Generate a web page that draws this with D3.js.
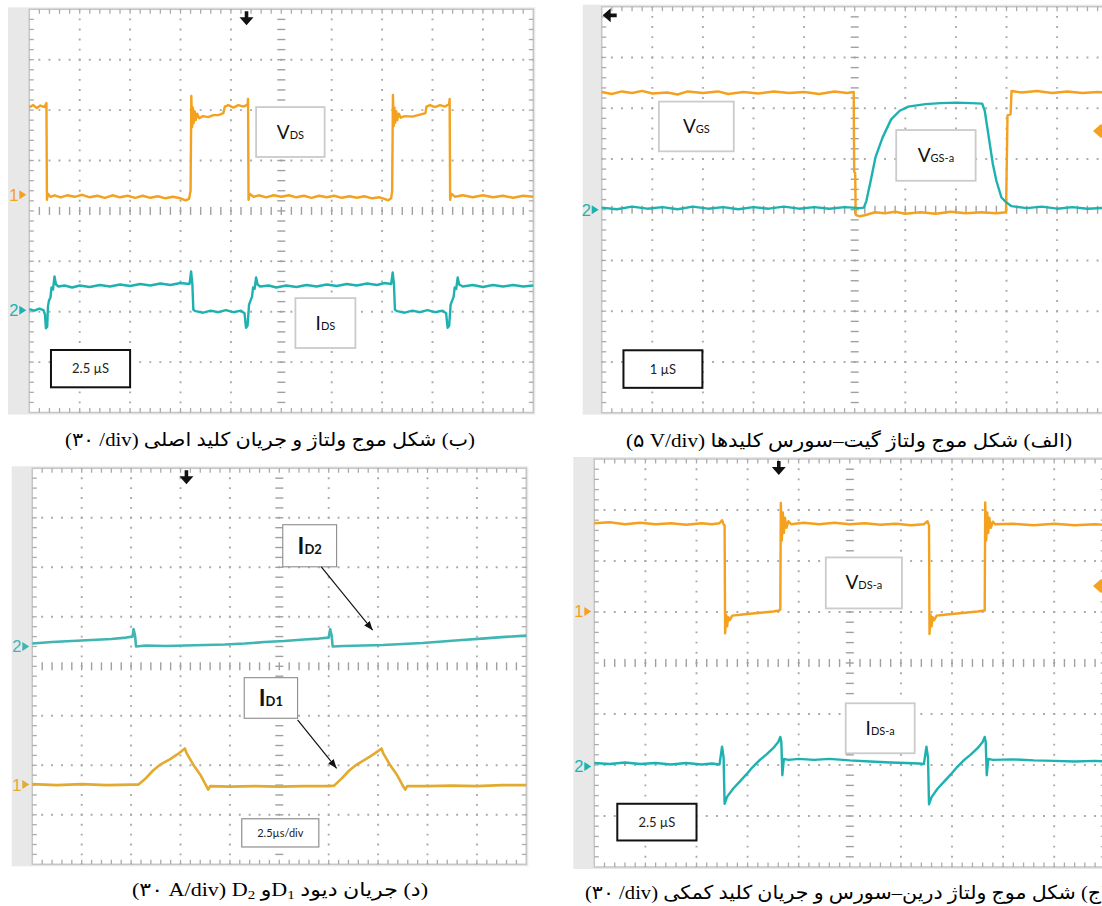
<!DOCTYPE html>
<html>
<head>
<meta charset="utf-8">
<script src="https://cdn.jsdelivr.net/npm/d3@7"></script>
<style>
    body { margin: 0; background: #fff; }
    #holder { position: relative; width: 1102px; height: 906px; overflow: hidden; background: #fff; }
    #holder svg { position: absolute; left: 0; top: 0; }
    .caption {
        position: absolute;
        white-space: nowrap;
        font-family: "Liberation Serif", "DejaVu Sans", serif;
        font-size: 19px;
        line-height: 26px;
        color: #000;
        transform-origin: 0 50%;
    }
    .caption sub { font-size: 0.68em; vertical-align: -0.25em; }
</style>
</head>
<body>
<div id="holder"></div>
<script>
// traces: [time in divisions, level in divisions above screen centre]

// (ب) main switch
const vdsMain = [[0,2.06],[0.08,2.10],[0.15,2.04],[0.22,2.09],[0.3,2.06],[0.34,2.14],
    [0.35,0.22],[0.37,0.34],[0.42,0.28],[0.5,0.31],[0.62,0.27],[0.75,0.31],[0.9,0.28],[1.05,0.32],
    [1.2,0.27],[1.35,0.30],[1.5,0.26],[1.65,0.31],[1.8,0.27],[1.95,0.30],[2.1,0.26],[2.25,0.30],
    [2.4,0.26],[2.55,0.29],[2.7,0.25],[2.85,0.28],[3.0,0.25],[3.1,0.21],[3.17,0.24],[3.2,0.40],
    [3.215,2.28],[3.23,1.66],[3.245,2.05],[3.26,1.74],[3.28,1.98],[3.30,1.80],[3.33,1.93],[3.37,1.84],
    [3.45,1.88],[3.55,1.86],[3.65,1.90],[3.75,1.90],[3.85,1.94],[3.88,2.07],[3.95,2.10],[4.05,2.05],
    [4.15,2.10],[4.25,2.07],[4.33,2.11],[4.34,2.22],[4.35,0.22],[4.37,0.34],[4.45,0.28],[4.55,0.31],
    [4.7,0.27],[4.85,0.31],[5.0,0.28],[5.15,0.31],[5.3,0.27],[5.45,0.30],[5.6,0.26],[5.75,0.30],
    [5.9,0.27],[6.05,0.30],[6.2,0.26],[6.35,0.29],[6.5,0.26],[6.65,0.29],[6.8,0.25],[6.95,0.27],
    [7.05,0.24],[7.12,0.21],[7.18,0.25],[7.2,0.40],[7.215,2.30],[7.23,1.68],[7.245,2.05],[7.26,1.75],
    [7.28,1.98],[7.30,1.80],[7.33,1.93],[7.37,1.85],[7.45,1.88],[7.6,1.87],[7.75,1.91],[7.86,1.94],
    [7.88,2.07],[7.95,2.10],[8.05,2.06],[8.15,2.10],[8.25,2.07],[8.33,2.12],[8.34,2.22],[8.35,0.22],
    [8.37,0.34],[8.45,0.28],[8.6,0.31],[8.8,0.27],[9.0,0.31],[9.2,0.27],[9.4,0.30],[9.6,0.26],
    [9.8,0.30],[10,0.28]];

const idsMain = [[0,-1.95],[0.1,-1.98],[0.2,-1.94],[0.28,-1.97],[0.31,-2.05],[0.33,-2.33],[0.355,-2.30],
    [0.37,-1.90],[0.39,-1.78],[0.42,-1.72],[0.44,-1.52],[0.47,-1.56],[0.5,-1.30],[0.53,-1.46],[0.58,-1.50],
    [0.7,-1.48],[0.85,-1.52],[1.0,-1.48],[1.2,-1.51],[1.4,-1.47],[1.6,-1.50],[1.8,-1.46],[2.0,-1.49],
    [2.2,-1.45],[2.4,-1.48],[2.6,-1.44],[2.8,-1.47],[3.0,-1.43],[3.18,-1.45],[3.21,-1.20],[3.235,-1.45],
    [3.255,-1.96],[3.3,-1.99],[3.45,-2.02],[3.6,-1.98],[3.75,-2.01],[3.9,-1.97],[4.05,-2.01],[4.2,-1.98],
    [4.27,-2.03],[4.3,-2.32],[4.33,-2.28],[4.36,-1.86],[4.39,-1.78],[4.42,-1.70],[4.44,-1.52],[4.47,-1.55],
    [4.5,-1.32],[4.53,-1.46],[4.58,-1.50],[4.75,-1.48],[4.9,-1.52],[5.1,-1.48],[5.3,-1.51],[5.5,-1.47],
    [5.7,-1.50],[5.9,-1.46],[6.1,-1.49],[6.3,-1.45],[6.5,-1.48],[6.7,-1.44],[6.9,-1.47],[7.05,-1.43],
    [7.18,-1.45],[7.21,-1.22],[7.235,-1.45],[7.255,-1.96],[7.3,-1.99],[7.45,-2.02],[7.6,-1.98],[7.75,-2.01],
    [7.9,-1.97],[8.05,-2.01],[8.2,-1.98],[8.27,-2.03],[8.3,-2.32],[8.33,-2.28],[8.36,-1.86],[8.39,-1.78],
    [8.42,-1.70],[8.44,-1.52],[8.47,-1.55],[8.5,-1.32],[8.53,-1.46],[8.6,-1.50],[8.8,-1.47],[9.0,-1.51],
    [9.2,-1.47],[9.4,-1.50],[9.6,-1.47],[9.8,-1.50],[10,-1.48]];

// (الف) gate-source
const vgsMain = [[0,2.32],[0.2,2.28],[0.4,2.33],[0.6,2.30],[0.8,2.34],[1.0,2.29],[1.3,2.31],[1.5,2.27],
    [1.7,2.33],[2.0,2.30],[2.3,2.33],[2.5,2.28],[2.8,2.32],[3.1,2.29],[3.4,2.33],[3.7,2.30],[4.0,2.32],
    [4.3,2.28],[4.6,2.33],[4.85,2.30],[4.98,2.32],[4.99,0.75],[5.01,0.72],[5.02,-0.10],[5.1,-0.13],
    [5.2,-0.11],[5.3,-0.08],[5.4,-0.05],[5.6,-0.07],[5.8,-0.04],[6.0,-0.08],[6.3,-0.05],[6.6,-0.08],
    [6.9,-0.04],[7.2,-0.07],[7.5,-0.05],[7.8,-0.07],[7.99,-0.05],[8.0,0.55],[8.02,1.86],[8.08,1.88],
    [8.1,2.34],[8.3,2.31],[8.6,2.34],[8.9,2.30],[9.2,2.33],[9.5,2.30],[9.8,2.32],[10,2.31]];

const vgsAux = [[0,0.04],[0.3,0.01],[0.6,0.06],[0.9,0.02],[1.2,0.05],[1.5,0.01],[1.8,0.06],[2.1,0.02],
    [2.4,0.05],[2.7,0.01],[3.0,0.05],[3.3,0.02],[3.6,0.06],[3.9,0.02],[4.2,0.05],[4.5,0.02],[4.8,0.05],
    [5.1,0.03],[5.18,0.04],[5.23,0.17],[5.31,0.54],[5.41,1.03],[5.55,1.42],[5.72,1.78],[5.89,1.95],
    [6.06,2.03],[6.4,2.08],[6.7,2.10],[7.01,2.11],[7.3,2.10],[7.52,2.09],[7.57,1.95],[7.66,1.36],
    [7.73,0.90],[7.80,0.57],[7.90,0.24],[8.0,0.14],[8.1,0.07],[8.4,0.03],[8.7,0.06],[9.0,0.02],
    [9.3,0.05],[9.6,0.02],[10,0.04]];

// (د) diodes
const iD2 = [[0,0.46],[0.4,0.49],[0.8,0.51],[1.2,0.53],[1.6,0.55],[1.9,0.58],[2.03,0.60],[2.05,0.75],
    [2.08,0.62],[2.1,0.40],[2.3,0.42],[2.7,0.41],[3.1,0.42],[3.5,0.43],[3.9,0.44],[4.3,0.46],[4.7,0.49],
    [5.1,0.51],[5.5,0.54],[5.8,0.56],[6.0,0.58],[6.03,0.75],[6.06,0.62],[6.08,0.40],[6.3,0.41],[6.7,0.42],
    [7.1,0.43],[7.5,0.45],[7.9,0.47],[8.3,0.50],[8.7,0.53],[9.1,0.56],[9.5,0.59],[10,0.62]];

const iD1 = [[0,-2.38],[0.5,-2.40],[1.0,-2.38],[1.5,-2.40],[2.0,-2.39],[2.15,-2.39],[2.3,-2.26],
    [2.45,-2.10],[2.6,-1.98],[2.8,-1.87],[2.95,-1.77],[3.09,-1.66],[3.12,-1.75],[3.26,-1.99],[3.40,-2.19],
    [3.53,-2.43],[3.56,-2.49],[3.6,-2.42],[4.0,-2.43],[4.5,-2.42],[5.0,-2.43],[5.5,-2.42],[6.0,-2.42],
    [6.11,-2.41],[6.26,-2.27],[6.41,-2.11],[6.56,-1.99],[6.76,-1.87],[6.92,-1.77],[7.07,-1.66],[7.10,-1.75],
    [7.24,-1.99],[7.38,-2.19],[7.51,-2.43],[7.55,-2.49],[7.59,-2.42],[8.0,-2.42],[8.5,-2.41],[9.0,-2.42],
    [9.5,-2.40],[10,-2.40]];

// (ج) auxiliary switch
const vdsAux = [[0,2.74],[0.3,2.76],[0.6,2.72],[0.9,2.75],[1.2,2.72],[1.5,2.74],[1.8,2.71],[2.1,2.74],
    [2.3,2.72],[2.45,2.74],[2.5,2.80],[2.53,2.72],[2.55,2.70],[2.56,0.58],[2.58,0.95],[2.6,0.72],[2.62,0.90],
    [2.65,0.84],[2.7,0.93],[2.9,0.95],[3.1,0.97],[3.3,0.99],[3.5,1.01],[3.62,1.03],[3.64,1.05],[3.65,3.14],
    [3.67,2.40],[3.69,2.95],[3.71,2.55],[3.73,2.85],[3.76,2.65],[3.8,2.78],[3.85,2.72],[4.1,2.75],[4.4,2.72],
    [4.7,2.75],[5.0,2.72],[5.3,2.74],[5.6,2.71],[5.9,2.73],[6.2,2.70],[6.45,2.72],[6.52,2.78],[6.55,2.70],
    [6.56,0.57],[6.58,0.95],[6.6,0.72],[6.62,0.90],[6.65,0.84],[6.7,0.93],[6.9,0.95],[7.1,0.97],[7.3,0.99],
    [7.5,1.01],[7.64,1.03],[7.65,3.15],[7.67,2.40],[7.69,2.95],[7.71,2.55],[7.73,2.85],[7.76,2.65],[7.8,2.77],
    [7.85,2.72],[8.2,2.73],[8.6,2.70],[9.0,2.73],[9.4,2.70],[9.8,2.72],[10,2.71]];

const idsAux = [[0,-1.96],[0.3,-1.98],[0.6,-1.95],[0.9,-1.98],[1.2,-1.96],[1.5,-1.99],[1.8,-1.96],
    [2.1,-1.99],[2.3,-1.97],[2.45,-1.99],[2.5,-1.64],[2.53,-1.85],[2.55,-2.76],[2.6,-2.62],[2.72,-2.46],
    [2.85,-2.32],[2.98,-2.18],[3.1,-2.04],[3.24,-1.90],[3.36,-1.80],[3.5,-1.67],[3.6,-1.55],[3.64,-1.45],
    [3.66,-1.55],[3.68,-2.20],[3.71,-1.88],[3.8,-1.90],[4.0,-1.88],[4.3,-1.90],[4.6,-1.88],[5.0,-1.91],
    [5.4,-1.93],[5.8,-1.95],[6.1,-1.96],[6.35,-1.97],[6.45,-1.98],[6.5,-1.64],[6.53,-1.85],[6.55,-2.77],
    [6.6,-2.63],[6.72,-2.46],[6.85,-2.32],[6.98,-2.18],[7.1,-2.04],[7.24,-1.90],[7.36,-1.80],[7.5,-1.67],
    [7.6,-1.55],[7.64,-1.45],[7.66,-1.55],[7.68,-2.20],[7.71,-1.88],[7.8,-1.90],[8.2,-1.89],[8.6,-1.91],
    [9.0,-1.92],[9.4,-1.93],[9.8,-1.92],[10,-1.93]];

// captions (rendered right-to-left)
const captionB = 'شکل موج ولتاژ و جریان کلید اصلی';
const captionA = 'شکل موج ولتاژ گیت–سورس کلیدها';
const captionD = 'جریان دیود';
const captionC = 'شکل موج ولتاژ درین–سورس و جریان کلید کمکی';

const ORANGE = "#f3a11e";
const CYAN = "#1db2b0";
const ORANGE_D = "#e3aa30";
const CYAN_D = "#3fb5b4";

class ScopeScreen {
    constructor() {
        this.g;
        this.cfg;
        this.x;
        this.yr;
        this.yv;

        this.init = this.init.bind(this);
        this.drawFrame = this.drawFrame.bind(this);
        this.drawTraces = this.drawTraces.bind(this);
        this.drawNotes = this.drawNotes.bind(this);
    }

    init(svg, cfg){
        this.cfg = cfg;
        this.g = svg.append("g");
        this.x = d3.scaleLinear().domain([0, 10]).range([cfg.x0, cfg.x0 + 10 * cfg.dx]);
        this.yr = d3.scaleLinear().domain([0, 8]).range([cfg.y0, cfg.y0 + 8 * cfg.dy]);
        this.yv = d3.scaleLinear().domain([4, -4]).range([cfg.y0, cfg.y0 + 8 * cfg.dy]);
    }

    drawFrame(){
        let g = this.g, x = this.x, yr = this.yr, cfg = this.cfg;
        let left = x(0), right = x(10), top = yr(0), bottom = yr(8);
        let minorX = cfg.dx / 5, minorY = cfg.dy / 5;

        g.append("rect")
            .attr("x", left - cfg.strip).attr("y", top - 2)
            .attr("width", right - left + cfg.strip + 2).attr("height", bottom - top + 4)
            .attr("fill", "#e8e8e8");
        g.append("rect")
            .attr("x", left).attr("y", top)
            .attr("width", right - left).attr("height", bottom - top)
            .attr("fill", "#fff").attr("stroke", "#c6c6c6").attr("stroke-width", 1.5);

        //dotted division lines
        g.selectAll(".vdot").data(d3.range(1, 10).filter(d => d !== 5))
            .enter().append("line").attr("class", "vdot")
            .attr("x1", d => x(d)).attr("x2", d => x(d))
            .attr("y1", top).attr("y2", bottom)
            .attr("stroke", "#a9a9a9").attr("stroke-width", 1.9)
            .attr("stroke-dasharray", "1.9," + (minorY - 1.9))
            .attr("stroke-dashoffset", 0.95);
        g.selectAll(".hdot").data(d3.range(1, 8).filter(d => d !== 4))
            .enter().append("line").attr("class", "hdot")
            .attr("y1", d => yr(d)).attr("y2", d => yr(d))
            .attr("x1", left).attr("x2", right)
            .attr("stroke", "#a9a9a9").attr("stroke-width", 1.9)
            .attr("stroke-dasharray", "1.9," + (minorX - 1.9))
            .attr("stroke-dashoffset", 0.95);

        //centre cross ticks
        g.selectAll(".ctx").data(d3.range(1, 50))
            .enter().append("line").attr("class", "ctx")
            .attr("x1", d => x(d / 5)).attr("x2", d => x(d / 5))
            .attr("y1", yr(4) - 4).attr("y2", yr(4) + 4)
            .attr("stroke", "#a0a0a0").attr("stroke-width", 1.4);
        g.selectAll(".cty").data(d3.range(1, 40))
            .enter().append("line").attr("class", "cty")
            .attr("y1", d => yr(d / 5)).attr("y2", d => yr(d / 5))
            .attr("x1", x(5) - 4).attr("x2", x(5) + 4)
            .attr("stroke", "#a0a0a0").attr("stroke-width", 1.4);

        //border ticks
        let bx = d3.range(1, 50), by = d3.range(1, 40);
        [[top, top + 4.5], [bottom - 4.5, bottom]].forEach(function(p){
            g.selectAll(null).data(bx).enter().append("line")
                .attr("x1", d => x(d / 5)).attr("x2", d => x(d / 5))
                .attr("y1", p[0]).attr("y2", p[1])
                .attr("stroke", "#ababab").attr("stroke-width", 1.3);
        });
        [[left, left + 4.5], [right - 4.5, right]].forEach(function(p){
            g.selectAll(null).data(by).enter().append("line")
                .attr("y1", d => yr(d / 5)).attr("y2", d => yr(d / 5))
                .attr("x1", p[0]).attr("x2", p[1])
                .attr("stroke", "#ababab").attr("stroke-width", 1.3);
        });
    }

    drawTraces(){
        let x = this.x, yv = this.yv, cfg = this.cfg;
        let line = d3.line()
            .x(d => x(d[0]))
            .y(d => yv(d[1]));

        this.g.selectAll(".trace").data(cfg.traces)
            .enter().append("path").attr("class", "trace")
            .attr("d", d => line(d.data))
            .attr("fill", "none")
            .attr("stroke", d => d.color)
            .attr("stroke-width", cfg.lw)
            .attr("stroke-linejoin", "round");

        //channel markers in the grey strip
        let left = x(0);
        this.g.selectAll(".chan").data(cfg.chans)
            .enter().append("g").attr("class", "chan")
            .each(function(c){
                let cy = yv(c.v);
                d3.select(this).append("text")
                    .attr("x", left - 20).attr("y", cy).attr("dy", "0.36em")
                    .attr("font-family", "Liberation Sans, Arial, sans-serif")
                    .attr("font-size", 16.5)
                    .attr("fill", c.color)
                    .text(c.ch);
                d3.select(this).append("path")
                    .attr("d", "M" + (left - 10) + "," + (cy - 4.5) + "L" + (left - 3) + "," + cy + "L" + (left - 10) + "," + (cy + 4.5) + "Z")
                    .attr("fill", c.color);
            });
    }

    drawNotes(){
        let g = this.g, x = this.x, yr = this.yr, yv = this.yv, cfg = this.cfg;
        let top = yr(0);

        //trigger position marker
        if (cfg.trig.dir === "down"){
            let tx = x(cfg.trig.t);
            g.append("path")
                .attr("d", "M" + (tx - 1.8) + "," + (top + 2) + "h3.6v6h5.2l-7,8l-7,-8h5.2z")
                .attr("fill", "#111");
        } else {
            let ty = yr(cfg.trig.r);
            let lx = x(0) + 1;
            g.append("path")
                .attr("d", "M" + lx + "," + ty + "l8,-7v5.2h6v3.6h-6v5.2z")
                .attr("fill", "#111");
        }

        //trigger level marker on the right edge
        if (cfg.level !== undefined){
            let ly = yv(cfg.level);
            g.append("path")
                .attr("d", "M1093," + ly + "l8,-7l8,7l-8,7z")
                .attr("fill", ORANGE);
        }

        //name boxes
        g.selectAll(".nbox").data(cfg.boxes)
            .enter().append("g").attr("class", "nbox")
            .each(function(b){
                let x0 = x(b.t0), x1 = x(b.t1), y0 = yr(b.r0), y1 = yr(b.r1);
                d3.select(this).append("rect")
                    .attr("x", x0).attr("y", y0)
                    .attr("width", x1 - x0).attr("height", y1 - y0)
                    .attr("fill", "#fff")
                    .attr("stroke", b.bold ? "#8c8c8c" : "#cbcbcb")
                    .attr("stroke-width", b.bold ? 1.1 : 1.8);
                let t = d3.select(this).append("text")
                    .attr("x", (x0 + x1) / 2)
                    .attr("y", (y0 + y1) / 2 + (b.bold ? 8 : 6.5))
                    .attr("text-anchor", "middle")
                    .attr("font-family", "Lato, 'Open Sans', sans-serif")
                    .attr("font-weight", b.bold ? 700 : 400)
                    .attr("fill", "#111");
                t.append("tspan").attr("font-size", b.bold ? 23 : 19).text(b.main);
                t.append("tspan").attr("font-size", b.bold ? 13 : 11).text(b.sub);
            });

        //time base box
        let s = cfg.scale;
        let sx0 = x(s.t0), sx1 = x(s.t1), sy0 = yr(s.r0), sy1 = yr(s.r1);
        g.append("rect")
            .attr("x", sx0).attr("y", sy0)
            .attr("width", sx1 - sx0).attr("height", sy1 - sy0)
            .attr("fill", "#fff")
            .attr("stroke", s.black ? "#111" : "#8f8f8f")
            .attr("stroke-width", s.black ? 2 : 1.2);
        g.append("text")
            .attr("x", (sx0 + sx1) / 2)
            .attr("y", (sy0 + sy1) / 2)
            .attr("dy", "0.36em")
            .attr("text-anchor", "middle")
            .attr("font-family", "Lato, 'Open Sans', sans-serif")
            .attr("font-size", s.black ? 13 : 11)
            .attr("fill", "#222")
            .text(s.text);

        //pointer arrows
        g.selectAll(".ptr").data(cfg.pointers || [])
            .enter().append("line").attr("class", "ptr")
            .attr("x1", d => x(d[0])).attr("y1", d => yr(d[1]))
            .attr("x2", d => x(d[2])).attr("y2", d => yr(d[3]))
            .attr("stroke", "#111").attr("stroke-width", 1.2)
            .attr("marker-end", "url(#head)");
    }
}

let holder = d3.select("#holder");
let svg = holder.append("svg").attr("width", 1102).attr("height", 906);

svg.append("defs").append("marker")
    .attr("id", "head")
    .attr("markerUnits", "userSpaceOnUse")
    .attr("markerWidth", 10).attr("markerHeight", 8)
    .attr("refX", 9).attr("refY", 4)
    .attr("orient", "auto")
    .append("path").attr("d", "M0,0.5L9,4L0,7.5Z").attr("fill", "#111");

let screens = [
    { x0: 29.3, y0: 9.3, dx: 50.4, dy: 50.4, strip: 21.3, lw: 2.4,
      traces: [{data: idsMain, color: CYAN}, {data: vdsMain, color: ORANGE}],
      chans: [{ch: "1", v: 0.32, color: ORANGE}, {ch: "2", v: -1.97, color: CYAN}],
      trig: {dir: "down", t: 4.31},
      boxes: [{t0: 4.50, t1: 5.86, r0: 1.94, r1: 2.93, main: "V", sub: "DS"},
              {t0: 5.28, t1: 6.47, r0: 5.73, r1: 6.72, main: "I", sub: "DS"}],
      scale: {t0: 0.43, t1: 2.0, r0: 6.76, r1: 7.50, text: "2.5 µS", black: true} },
    { x0: 601.7, y0: 6.7, dx: 50.6, dy: 50.75, strip: 19, lw: 2.4,
      traces: [{data: vgsMain, color: ORANGE}, {data: vgsAux, color: CYAN}],
      chans: [{ch: "2", v: 0.0, color: CYAN}],
      trig: {dir: "left", r: 0.17},
      level: 1.55,
      boxes: [{t0: 1.13, t1: 2.61, r0: 1.87, r1: 2.85, main: "V", sub: "GS"},
              {t0: 5.82, t1: 7.39, r0: 2.43, r1: 3.43, main: "V", sub: "GS-a"}],
      scale: {t0: 0.43, t1: 1.99, r0: 6.77, r1: 7.51, text: "1 µS", black: true} },
    { x0: 32.3, y0: 468.3, dx: 49.4, dy: 49.5, strip: 20.6, lw: 2.6,
      traces: [{data: iD2, color: CYAN_D}, {data: iD1, color: ORANGE_D}],
      chans: [{ch: "1", v: -2.39, color: ORANGE_D}, {ch: "2", v: 0.40, color: CYAN_D}],
      trig: {dir: "down", t: 3.12},
      boxes: [{t0: 5.07, t1: 6.16, r0: 1.14, r1: 1.99, main: "I", sub: "D2", bold: true},
              {t0: 4.29, t1: 5.37, r0: 4.23, r1: 5.05, main: "I", sub: "D1", bold: true}],
      pointers: [[5.85, 1.99, 6.89, 3.27], [5.37, 5.08, 6.16, 6.06]],
      scale: {t0: 4.24, t1: 5.80, r0: 7.08, r1: 7.65, text: "2.5µs/div", black: false} },
    { x0: 594.3, y0: 459, dx: 51.1, dy: 51.0, strip: 21, lw: 2.4,
      traces: [{data: idsAux, color: CYAN}, {data: vdsAux, color: ORANGE}],
      chans: [{ch: "1", v: 1.01, color: ORANGE}, {ch: "2", v: -2.03, color: CYAN}],
      trig: {dir: "down", t: 3.61},
      level: 1.51,
      boxes: [{t0: 4.53, t1: 6.02, r0: 1.93, r1: 2.93, main: "V", sub: "DS-a"},
              {t0: 4.92, t1: 6.27, r0: 4.79, r1: 5.77, main: "I", sub: "DS-a"}],
      scale: {t0: 0.45, t1: 2.0, r0: 6.76, r1: 7.48, text: "2.5 µS", black: true} }
];

screens.forEach(function(cfg){
    let s = new ScopeScreen();
    s.init(svg, cfg);
    s.drawFrame();
    s.drawTraces();
    s.drawNotes();
});

//captions: html so the browser handles the right-to-left ordering
let captions = [
    { html: '(ب) ' + captionB + ' <bdi dir="ltr">(۳۰ /div)</bdi>', left: 65, right: 475, cy: 440 },
    { html: '(الف) ' + captionA + ' <bdi dir="ltr">(۵ V/div)</bdi>', left: 626, right: 1072, cy: 441 },
    { html: '(د) ' + captionD + ' <bdi dir="ltr">D<sub>1</sub></bdi>و <bdi dir="ltr">D<sub>2</sub></bdi> <bdi dir="ltr">(۳۰ A/div)</bdi>', left: 132, right: 428, cy: 890 },
    { html: '(ج) ' + captionC + ' <bdi dir="ltr">(۳۰ /div)</bdi>', left: 585, right: 1108, cy: 893 }
];

holder.selectAll(".caption").data(captions)
    .enter().append("div")
    .attr("class", "caption")
    .attr("dir", "rtl")
    .style("left", d => d.left + "px")
    .style("top", d => (d.cy - 13) + "px")
    .html(d => d.html)
    .each(function(d){
        let w = this.getBoundingClientRect().width;
        d3.select(this).style("transform", "scaleX(" + ((d.right - d.left) / w) + ")");
    });
</script>
</body>
</html>
